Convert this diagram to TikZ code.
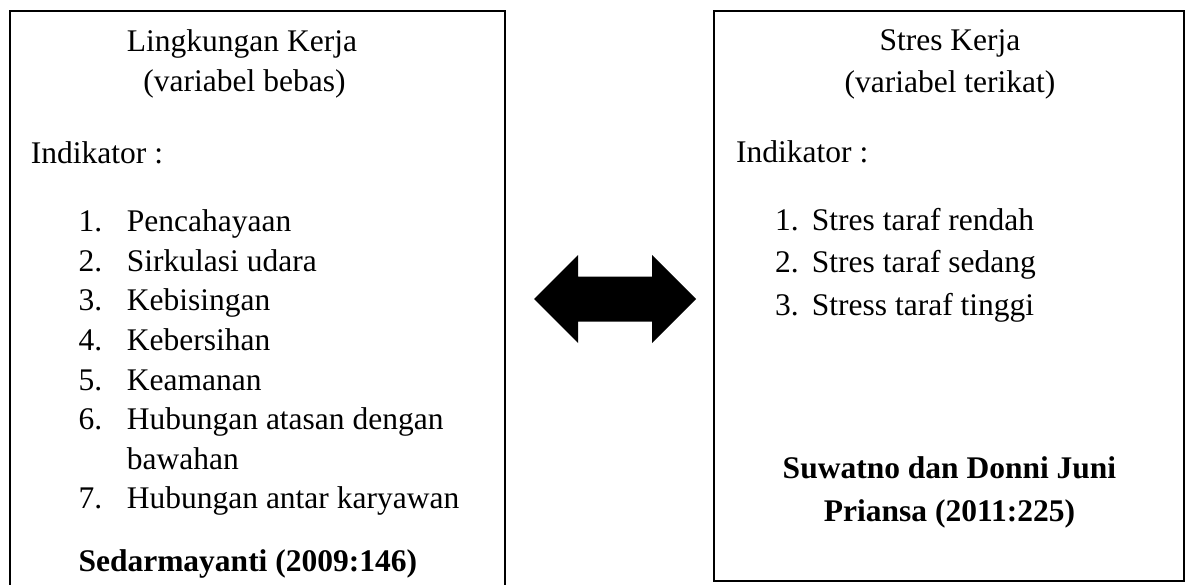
\documentclass[tikz,border=0pt]{standalone}
\usepackage{fontspec}
\setmainfont{Liberation Serif}
\usetikzlibrary{positioning}

\tikzset{
  box/.style={draw, line width=2.6pt, rectangle, inner sep=0pt},
  txt/.style={anchor=base west, inner sep=0pt, font=\fontsize{31.5}{40}\selectfont},
  ttl/.style={anchor=base, inner sep=0pt, font=\fontsize{31.5}{40}\selectfont},
  ref/.style={anchor=base, inner sep=0pt, font=\fontsize{31.5}{40}\selectfont\bfseries}
}

\begin{document}
\begin{tikzpicture}[x=1pt, y=-1pt]
    \useasboundingbox (0,0) rectangle (1189,584);

    % Boxes
    \node[box, minimum width=495pt, minimum height=590pt] (lkBox) at (257.5,306) {};
    \node[box, minimum width=470pt, minimum height=570pt] (skBox) at (949,296) {};

    % Left box: Lingkungan Kerja
    \node[ttl] (lkTitle) at (242,51.7) {Lingkungan Kerja};
    \node[ttl] (lkSub) at (244.5,91.7) {(variabel bebas)};
    \node[txt] (lkInd) at (30.7,163.3) {Indikator :};
    \foreach \i/\y/\t in {1/231.7/Pencahayaan, 2/271.3/Sirkulasi udara, 3/310.9/Kebisingan,
                          4/350.5/Kebersihan, 5/390.1/Keamanan, 6/429.7/Hubungan atasan dengan,
                          7/508.9/Hubungan antar karyawan} {
      \node[txt] (lkNum\i) at (78.3,\y) {\i.};
      \node[txt] (lkItem\i) at (126.7,\y) {\t};
    }
    \node[txt] (lkItem6b) at (126.7,469.3) {bawahan};
    \node[ref, anchor=base west] (lkRef) at (78.3,571.7) {Sedarmayanti (2009:146)};

    % Right box: Stres Kerja
    \node[ttl] (skTitle) at (950,50.7) {Stres Kerja};
    \node[ttl] (skSub) at (950,92.7) {(variabel terikat)};
    \node[txt] (skInd) at (736,162.7) {Indikator :};
    \foreach \i/\y/\t in {1/230.7/Stres taraf rendah, 2/272.7/Stres taraf sedang, 3/315/Stress taraf tinggi} {
      \node[txt] (skNum\i) at (775,\y) {\i.};
      \node[txt] (skItem\i) at (811.7,\y) {\t};
    }
    \node[ref] (skRef1) at (949.5,478.3) {Suwatno dan Donni Juni};
    \node[ref] (skRef2) at (949.5,521.7) {Priansa (2011:225)};

    % Double arrow between the boxes
    \coordinate (mid) at (615,299);
    \fill[shift={(mid)}] (-81,0) -- (-37,-44) -- (-37,-22.5) -- (37,-22.5) -- (37,-44)
        -- (81,0) -- (37,44) -- (37,22.5) -- (-37,22.5) -- (-37,44) -- cycle;
\end{tikzpicture}
\end{document}
